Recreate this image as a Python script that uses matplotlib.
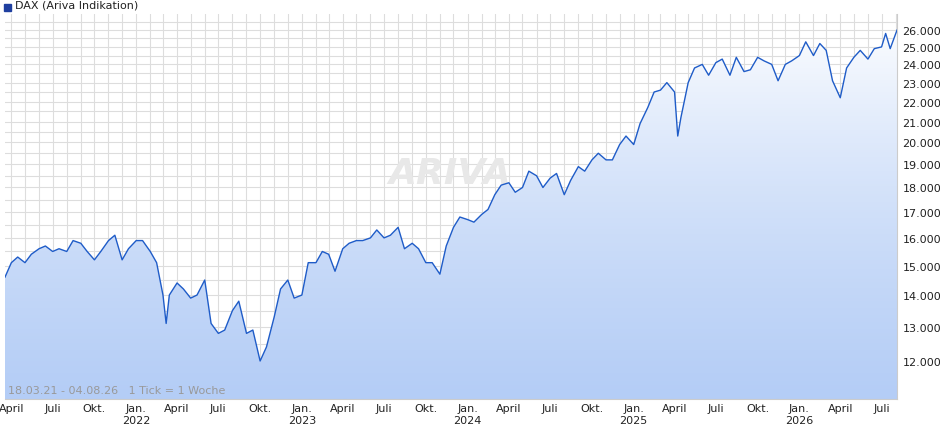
import matplotlib.pyplot as plt
import matplotlib.dates as mdates
from matplotlib.ticker import FixedLocator, FuncFormatter, NullFormatter
import numpy as np
import pandas as pd

dates = pd.to_datetime([
    "2021-03-18", "2021-04-01", "2021-04-15", "2021-05-01", "2021-05-15", "2021-06-01", "2021-06-15",
    "2021-07-01", "2021-07-15", "2021-08-01", "2021-08-15", "2021-09-01", "2021-09-15", "2021-10-01",
    "2021-10-15", "2021-11-01", "2021-11-15", "2021-12-01", "2021-12-15",
    "2022-01-01", "2022-01-15", "2022-02-01", "2022-02-15", "2022-03-01", "2022-03-08", "2022-03-15",
    "2022-04-01", "2022-04-15", "2022-05-01", "2022-05-15", "2022-06-01", "2022-06-15", "2022-07-01",
    "2022-07-15", "2022-08-01", "2022-08-15", "2022-09-01", "2022-09-15", "2022-10-01", "2022-10-15",
    "2022-11-01", "2022-11-15", "2022-12-01", "2022-12-15",
    "2023-01-01", "2023-01-15", "2023-02-01", "2023-02-15", "2023-03-01", "2023-03-15", "2023-04-01",
    "2023-04-15", "2023-05-01", "2023-05-15", "2023-06-01", "2023-06-15", "2023-07-01", "2023-07-15",
    "2023-08-01", "2023-08-15", "2023-09-01", "2023-09-15", "2023-10-01", "2023-10-15", "2023-11-01",
    "2023-11-15", "2023-12-01", "2023-12-15",
    "2024-01-01", "2024-01-15", "2024-02-01", "2024-02-15", "2024-03-01", "2024-03-15", "2024-04-01",
    "2024-04-15", "2024-05-01", "2024-05-15", "2024-06-01", "2024-06-15", "2024-07-01", "2024-07-15",
    "2024-08-01", "2024-08-15", "2024-09-01", "2024-09-15", "2024-10-01", "2024-10-15", "2024-11-01",
    "2024-11-15", "2024-12-01", "2024-12-15",
    "2025-01-01", "2025-01-15", "2025-02-01", "2025-02-15", "2025-03-01", "2025-03-15", "2025-04-01",
    "2025-04-08", "2025-04-15", "2025-05-01", "2025-05-15", "2025-06-01", "2025-06-15", "2025-07-01",
    "2025-07-15", "2025-08-01", "2025-08-15", "2025-09-01", "2025-09-15", "2025-10-01", "2025-10-15",
    "2025-11-01", "2025-11-15", "2025-12-01", "2025-12-15",
    "2026-01-01", "2026-01-15", "2026-02-01", "2026-02-15", "2026-03-01", "2026-03-15", "2026-04-01",
    "2026-04-15", "2026-05-01", "2026-05-15", "2026-06-01", "2026-06-15", "2026-07-01", "2026-07-10",
    "2026-07-20", "2026-08-04",
])
values = np.array([
    14.6, 15.1, 15.3, 15.1, 15.4, 15.6, 15.7, 15.5, 15.6, 15.5, 15.9, 15.8, 15.5, 15.2, 15.5, 15.9,
    16.1, 15.2, 15.6,
    15.9, 15.9, 15.5, 15.1, 14.0, 13.1, 14.0, 14.4, 14.2, 13.9, 14.0, 14.5, 13.1, 12.8, 12.9, 13.5,
    13.8, 12.8, 12.9, 12.0, 12.4, 13.3, 14.2, 14.5, 13.9,
    14.0, 15.1, 15.1, 15.5, 15.4, 14.8, 15.6, 15.8, 15.9, 15.9, 16.0, 16.3, 16.0, 16.1, 16.4, 15.6,
    15.8, 15.6, 15.1, 15.1, 14.7, 15.7, 16.4, 16.8,
    16.7, 16.6, 16.9, 17.1, 17.7, 18.1, 18.2, 17.8, 18.0, 18.7, 18.5, 18.0, 18.4, 18.6, 17.7, 18.3,
    18.9, 18.7, 19.2, 19.5, 19.2, 19.2, 19.9, 20.3,
    19.9, 20.9, 21.7, 22.5, 22.6, 23.0, 22.5, 20.3, 21.2, 23.0, 23.8, 24.0, 23.4, 24.1, 24.3, 23.4,
    24.4, 23.6, 23.7, 24.4, 24.2, 24.0, 23.1, 24.0, 24.2,
    24.5, 25.3, 24.5, 25.2, 24.8, 23.1, 22.2, 23.8, 24.4, 24.8, 24.3, 24.9, 25.0, 25.8, 24.9, 26.0,
]) * 1000

y_ticks = np.arange(12000, 26001, 1000)
ymin, ymax = 10980, 27000
line_color = "#1f5cc8"

fig = plt.figure(figsize=(9.4, 4.35), dpi=100)
ax = fig.add_axes([5 / 940, 35 / 435, 892 / 940, 385 / 435])
ax.set_yscale("log")
ax.set_ylim(ymin, ymax)
x0, x1 = mdates.date2num(dates[0]), mdates.date2num(dates[-1])
ax.set_xlim(x0, x1)

# gradient fill clipped under the line
grad = np.linspace(0, 1, 256).reshape(-1, 1)
im = ax.imshow(grad, cmap=plt.matplotlib.colors.LinearSegmentedColormap.from_list(
    "g", ["#b4cdf6", "#ffffff"]), aspect="auto", origin="lower",
    extent=[x0, x1, ymin, 27000], zorder=1)
poly = ax.fill_between(dates, values, ymin, color="none")
im.set_clip_path(poly.get_paths()[0], transform=ax.transData)
ax.plot(dates, values, color=line_color, lw=1, zorder=3)

# grid
ax.yaxis.set_major_locator(FixedLocator(y_ticks))
ax.yaxis.set_minor_locator(FixedLocator(np.arange(11500, 26600, 1000)))
ax.yaxis.set_major_formatter(FuncFormatter(lambda v, p: f"{v/1000:.3f}"))
ax.yaxis.set_minor_formatter(NullFormatter())
ax.yaxis.tick_right()
ax.xaxis.set_minor_locator(mdates.MonthLocator())
ax.xaxis.set_major_locator(mdates.MonthLocator(bymonth=[1, 4, 7, 10]))
names = {1: "Jan.", 4: "April", 7: "Juli", 10: "Okt."}
ax.xaxis.set_major_formatter(FuncFormatter(
    lambda v, p: names[mdates.num2date(v).month] + (f"\n{mdates.num2date(v).year}" if mdates.num2date(v).month == 1 else "")))
ax.grid(True, which="both", color="#dddddd", lw=0.8, zorder=0)
ax.set_axisbelow(True)
ax.tick_params(which="both", length=0, labelsize=8, colors="#222222")
ax.tick_params(axis="y", pad=4)
ax.tick_params(axis="x", pad=3)
for s in ["top", "left"]:
    ax.spines[s].set_visible(False)
for s in ["right", "bottom"]:
    ax.spines[s].set_color("#cccccc")

ax.text(0.43, 0.56, "ARIVA", transform=ax.transAxes, fontsize=26, color="#e8e8e8",
        style="italic", fontweight="bold", zorder=2)
ax.text(0.003, 0.015, "18.03.21 - 04.08.26   1 Tick = 1 Woche", transform=ax.transAxes,
        fontsize=8, color="#999999", zorder=4)
fig.patches.append(plt.Rectangle((4 / 940, 1 - 12 / 435), 7 / 940, 7 / 435,
                                 transform=fig.transFigure, color="#1f3f9f"))
fig.text(15 / 940, 1 - 6 / 435, "DAX (Ariva Indikation)", fontsize=8, va="center", color="#222222")

fig.savefig("out.png", dpi=100)
